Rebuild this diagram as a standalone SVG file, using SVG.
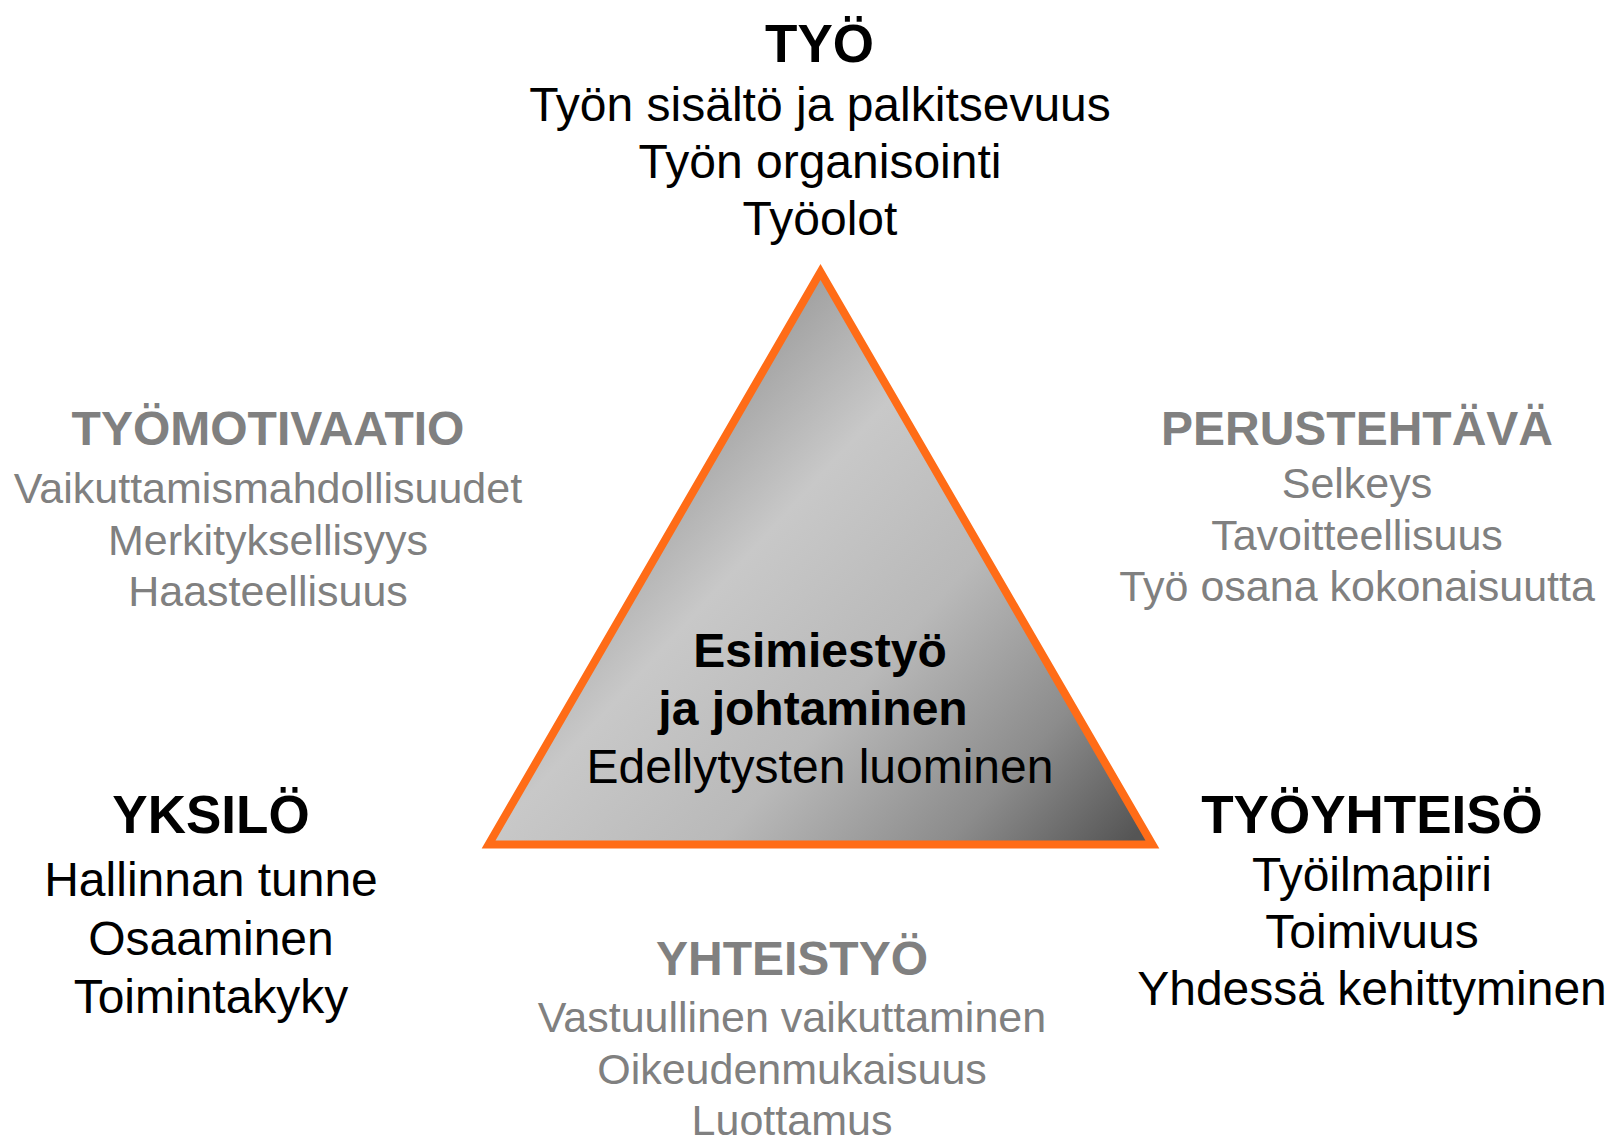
<svg xmlns="http://www.w3.org/2000/svg" width="1610" height="1138" viewBox="0 0 1610 1138">
<defs>
<linearGradient id="tri" gradientUnits="userSpaceOnUse" x1="690" y1="420" x2="1140" y2="830">
<stop offset="0" stop-color="#a2a2a2"/>
<stop offset="0.22" stop-color="#c8c8c8"/>
<stop offset="0.5" stop-color="#b9b9b9"/>
<stop offset="0.78" stop-color="#8c8c8c"/>
<stop offset="1" stop-color="#555555"/>
</linearGradient>
</defs>
<style>
text { font-family: "Liberation Sans", Arial, sans-serif; text-anchor: middle; }
.hb { font-size: 53px; font-weight: bold; fill: #000000; }
.b { font-size: 48px; fill: #000000; }
.hg { font-size: 48px; font-weight: bold; fill: #808080; }
.g { font-size: 43px; fill: #808080; }
.cb { font-size: 48px; font-weight: bold; fill: #000000; }
</style>
<rect width="1610" height="1138" fill="#ffffff"/>
<g id="triangle">
<polygon points="820.5,272 1152.4,844.5 488.6,844.5" fill="url(#tri)" stroke="#FF6C17" stroke-width="8" stroke-linejoin="miter"/>
<text class="cb" x="820" y="667">Esimiestyö</text>
<text class="cb" x="813" y="725">ja johtaminen</text>
<text class="b" x="820" y="783">Edellytysten luominen</text>
</g>
<g id="tyo">
<text class="hb" x="819.5" y="62">TYÖ</text>
<text class="b" x="820" y="121">Työn sisältö ja palkitsevuus</text>
<text class="b" x="820" y="178">Työn organisointi</text>
<text class="b" x="820" y="235">Työolot</text>
</g>
<g id="tyomotivaatio">
<text class="hg" x="268" y="445">TYÖMOTIVAATIO</text>
<text class="g" x="268" y="503">Vaikuttamismahdollisuudet</text>
<text class="g" x="268" y="554.5">Merkityksellisyys</text>
<text class="g" x="268" y="606">Haasteellisuus</text>
</g>
<g id="perustehtava">
<text class="hg" x="1357" y="445">PERUSTEHTÄVÄ</text>
<text class="g" x="1357" y="498">Selkeys</text>
<text class="g" x="1357" y="549.5">Tavoitteellisuus</text>
<text class="g" x="1357" y="601">Työ osana kokonaisuutta</text>
</g>
<g id="yksilo">
<text class="hb" x="211" y="833">YKSILÖ</text>
<text class="b" x="211" y="896">Hallinnan tunne</text>
<text class="b" x="211" y="954.5">Osaaminen</text>
<text class="b" x="211" y="1013">Toimintakyky</text>
</g>
<g id="tyoyhteiso">
<text class="hb" x="1372" y="833">TYÖYHTEISÖ</text>
<text class="b" x="1372" y="891">Työilmapiiri</text>
<text class="b" x="1372" y="948">Toimivuus</text>
<text class="b" x="1372" y="1005">Yhdessä kehittyminen</text>
</g>
<g id="yhteistyo">
<text class="hg" x="792" y="975">YHTEISTYÖ</text>
<text class="g" x="792" y="1032">Vastuullinen vaikuttaminen</text>
<text class="g" x="792" y="1083.5">Oikeudenmukaisuus</text>
<text class="g" x="792" y="1134.5">Luottamus</text>
</g>
<g id="connectors"></g>
</svg>
